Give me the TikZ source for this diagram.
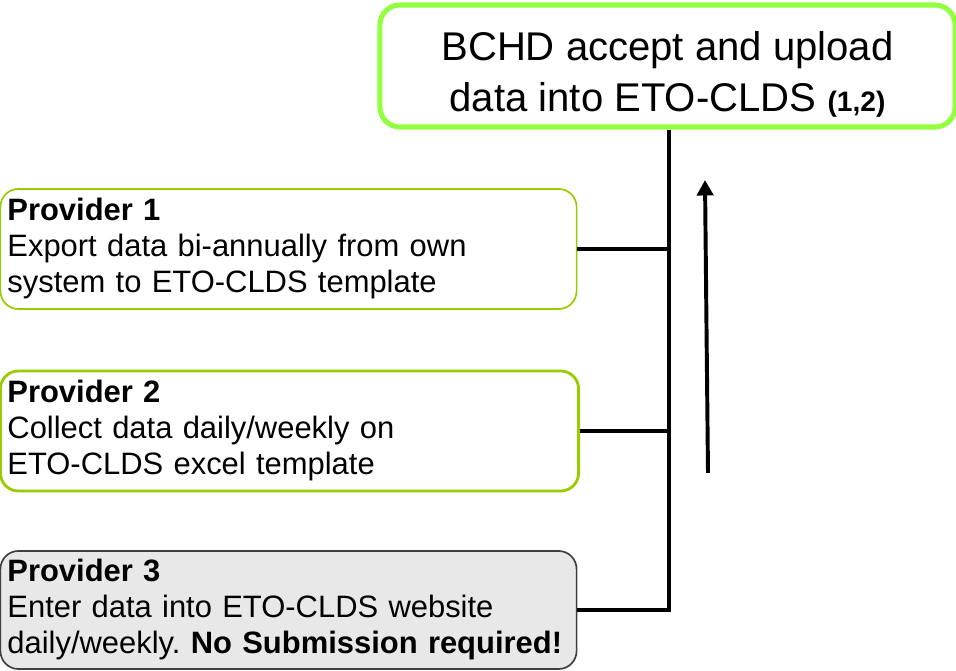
\documentclass[tikz,border=0pt]{standalone}
\usepackage{fontspec}
\setmainfont{Liberation Sans}
\usepackage{xcolor}
\usetikzlibrary{arrows.meta, positioning, calc}
\definecolor{limeedge}{RGB}{146,255,64}
\definecolor{olivegreen}{RGB}{153,204,0}
\definecolor{panelgray}{RGB}{232,232,232}
\frenchspacing

\begin{document}
\begin{tikzpicture}[
    x=0.025cm, y=0.025cm,
    >=Stealth,
    provbox/.style={draw=#1, rounded corners=0.45cm, align=left, text width=14.05cm, inner xsep=5pt, inner ysep=2pt, minimum height=3cm, font=\fontsize{22}{25.6}\selectfont},
    provbox/.default=olivegreen,
    link/.style={line width=3.3pt, color=black}
]
\useasboundingbox (0,0) rectangle (956,671);

% === TOP: BCHD ===
\node[draw=limeedge, line width=3.6pt, rounded corners=0.5cm, align=center, minimum width=14.375cm, minimum height=3.05cm, font=\fontsize{28.5}{36}\selectfont] (bchd) at (667.5, 605) {\rule{0pt}{33pt}BCHD accept and upload\\data into ETO-CLDS {\fontsize{20}{24}\selectfont\bfseries(1,2)}};

% === PROVIDERS ===
\node[provbox, line width=1.2pt] (prov1) at (288.5, 422) {\textbf{Provider 1}\\Export data bi-annually from own\\system to ETO-CLDS template};
\node[provbox, line width=2pt, text width=14.1cm] (prov2) at (289.5, 240) {\textbf{Provider 2}\\Collect data daily/weekly on\\ETO-CLDS excel template};
\node[provbox=black!75, line width=1.2pt, fill=panelgray, minimum height=2.95cm] (prov3) at (288.5, 61) {\textbf{Provider 3}\\Enter data into ETO-CLDS website\\daily/weekly. \textbf{No Submission required!}};

% === CONNECTORS ===
\coordinate (bus) at (669, 0);
\draw[link] (bchd.south -| bus) |- (prov3.east);
\draw[link] (prov1.east) -- (prov1.east -| bus);
\draw[link] (prov2.east) -- (prov2.east -| bus);

% upward flow arrow
\coordinate (flowtail) at (708, 198);
\coordinate (flowtip) at (705, 491);
\draw[-{Triangle[length=11pt, width=11.5pt]}, line width=2.8pt] (flowtail) -- (flowtip);

\end{tikzpicture}
\end{document}
